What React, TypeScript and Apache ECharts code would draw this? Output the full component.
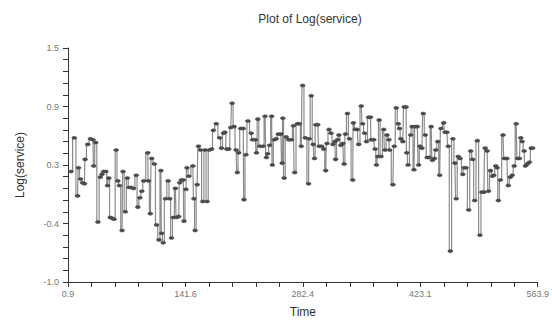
import React, { useEffect, useRef } from "react";
import * as echarts from "echarts";

const times: number[] = [
  4.5, 8.4, 12.4, 13.5, 15.9, 18.3, 20.6, 21.4, 24.6, 27.8, 30.9, 31.7, 34.1, 36.8, 39.6, 41.6, 43.6, 46.3, 48.3, 49.9,
  51.5, 53.8, 56.2, 58.6, 60.6, 62.5, 65.7, 66.9, 69.6, 72.0, 74.0, 76.7, 79.5, 82.7, 84.6, 87.0, 89.4, 91.7,
  96.5, 97.3, 99.6, 101.2, 104.4, 107.1, 109.9, 112.3, 113.1, 115.0, 117.8, 120.9, 122.9, 124.9, 127.3, 129.6, 131.2,
  133.6, 134.8, 136.8, 139.1, 139.9, 142.3, 143.5, 145.8, 150.6, 151.8, 153.3, 155.7, 157.3, 159.7, 162.4, 165.2,
  167.6, 170.3, 173.1, 175.1, 178.6, 182.6, 184.9, 187.3,
  188.9, 191.3, 193.6, 196.0, 197.6, 199.9, 202.3, 203.9, 205.5, 207.9, 211.0, 211.8, 214.2, 216.5, 220.5, 222.1,
  225.6, 226.8, 228.4, 230.8, 234.7, 237.1, 238.7, 240.2, 242.6, 245.0, 245.8, 248.1, 250.5, 252.9, 256.0, 257.6,
  258.4, 260.0, 262.4, 265.5, 268.7, 271.1, 272.6, 275.8, 278.2, 280.5, 282.1,
  285.3, 289.2, 290.0, 292.4, 294.8, 296.3, 297.9, 300.3, 301.9, 305.0, 307.4, 309.8, 311.3, 313.7, 316.1, 318.5,
  320.8, 321.6, 324.0, 325.6, 327.9, 330.3, 331.9, 333.5, 335.8, 338.2, 342.2, 342.9, 345.3, 347.7, 349.3, 352.4,
  354.0, 356.4, 358.7, 361.1, 363.5, 364.3, 367.4, 369.0, 370.6, 372.2, 373.8, 376.1,
  379.3, 380.9, 383.2, 385.6, 386.4, 390.3, 391.9, 394.3, 396.7, 398.2, 399.8, 402.2, 403.8, 406.1, 406.9, 408.5,
  411.7, 413.3, 415.6, 417.2, 419.6, 421.2, 422.7, 425.1, 426.7, 429.1, 431.4, 433.8, 436.2, 437.7, 440.1, 441.7,
  444.1, 446.4, 448.0, 451.2, 452.8, 455.1, 456.7, 459.1, 462.2, 464.6, 466.2, 468.6, 470.9,
  474.1, 475.7, 478.0, 481.2, 483.6, 485.9, 488.3, 491.5, 494.6, 497.0, 499.4, 500.9, 503.3, 504.9, 507.3, 509.6,
  511.2, 513.6, 515.2, 516.7, 519.1, 522.3, 523.9, 527.0, 528.6, 531.0, 533.3, 535.7, 538.1, 539.7, 542.0, 543.6,
  545.2, 547.6, 549.1, 551.5, 553.9, 556.2, 557.8,
];

const logService: number[] = [
  0.18, 0.54, -0.08, 0.22, 0.1, 0.06, 0.05, 0.31, 0.47, 0.53, 0.52, 0.24, 0.49, -0.36, 0.12, 0.15, 0.18, 0.18, 0.03, 0.11,
  -0.31, -0.32, -0.33, 0.41, 0.08, 0.03, -0.45, 0.18, -0.25, 0.11, 0.01, 0.01, 0.0, 0.14, -0.2, -0.1, -0.03, 0.08,
  0.38, 0.08, -0.27, 0.32, 0.26, -0.39, -0.55, 0.19, -0.48, -0.58, -0.11, 0.08, -0.11, -0.53, -0.31, 0.0, -0.31,
  -0.3, 0.06, 0.09, 0.09, -0.35, -0.01, 0.22, 0.13, 0.24, -0.11, -0.45, 0.04, 0.45, 0.41, -0.14, 0.41,
  -0.14, 0.41, 0.42, 0.62, 0.69, 0.54, 0.43, 0.59,
  0.6, 0.42, 0.42, 0.65, 0.91, 0.66, 0.41, 0.17, 0.38, 0.64, 0.64, -0.12, 0.36, 0.72, 0.59, 0.52,
  0.52, 0.38, 0.74, 0.45, 0.45, 0.77, 0.33, 0.37, 0.46, 0.77, 0.25, 0.52, 0.53, 0.58, 0.58, 0.27,
  0.75, 0.11, 0.55, 0.52, 0.52, 0.67, 0.17, 0.69, 0.69, 0.45, 1.1,
  0.54, 0.05, 0.53, 0.99, 0.47, 0.32, 0.68, 0.68, 0.45, 0.45, 0.42, 0.19, 0.48, 0.63, 0.59, 0.47,
  0.5, 0.31, 0.52, 0.57, 0.46, 0.48, 0.26, 0.58, 0.8, 0.53, 0.09, 0.7, 0.63, 0.63, 0.47, 0.88,
  0.69, 0.59, 0.5, 0.76, 0.76, 0.52, 0.52, 0.42, 0.25, 0.34, 0.73, 0.34,
  0.63, 0.41, 0.57, 0.52, 0.41, 0.04, 0.45, 0.86, 0.69, 0.64, 0.53, 0.5, 0.87, 0.87, 0.38, 0.25,
  0.57, 0.66, 0.2, 0.66, 0.66, 0.25, 0.45, 0.43, 0.8, 0.57, 0.33, 0.33, 0.66, 0.3, 0.32, 0.41,
  0.5, 0.14, 0.64, 0.7, 0.6, 0.6, 0.45, -0.67, 0.53, 0.27, -0.11, 0.34, 0.32,
  0.15, 0.22, 0.22, -0.23, 0.4, 0.31, -0.13, 0.51, -0.5, -0.04, -0.04, 0.43, 0.4, -0.03, 0.19, 0.13,
  0.14, 0.24, 0.22, -0.13, 0.09, 0.57, 0.32, 0.32, 0.03, 0.12, 0.14, 0.24, 0.69, 0.32, 0.32, 0.54,
  0.5, 0.4, 0.24, 0.26, 0.28, 0.43, 0.43,
];

const xTickValues: number[] = [0.9, 141.65, 282.4, 423.15, 563.9];
const xTickLabels: string[] = ["0.9", "141.6", "282.4", "423.1", "563.9"];
const yTickValues: number[] = [-1.0, -0.375, 0.25, 0.875, 1.5];
const yTickLabels: string[] = ["-1.0", "-0.4", "0.3", "0.9", "1.5"];

function minorValues(major: number[], parts: number): number[] {
  const out: number[] = [];
  for (let i = 0; i < major.length - 1; i++) {
    const step = (major[i + 1] - major[i]) / parts;
    for (let k = 0; k < parts; k++) out.push(major[i] + step * k);
  }
  out.push(major[major.length - 1]);
  return out;
}

function labelFor(values: number[], labels: string[], v: number): string {
  let best = 0;
  for (let i = 1; i < values.length; i++) {
    if (Math.abs(values[i] - v) < Math.abs(values[best] - v)) best = i;
  }
  return labels[best];
}

export default function App() {
  const ref = useRef<HTMLDivElement>(null);
  useEffect(() => {
    if (!ref.current) return;
    const chart = echarts.init(ref.current, undefined, { renderer: "svg" });
    const font = "Liberation Sans, Arial, sans-serif";
    const axisColor = "#333";
    chart.setOption({
      animation: false,
      backgroundColor: "#fff",
      title: {
        text: "Plot of Log(service)",
        left: 305,
        top: 8,
        textAlign: "center",
        textStyle: { fontFamily: font, fontSize: 12, fontWeight: "normal", color: "#333" },
      },
      grid: { left: 68, right: 9, top: 48, bottom: 37, containLabel: false },
      xAxis: {
        type: "value",
        min: 0.9,
        max: 563.9,
        name: "Time",
        nameLocation: "middle",
        nameGap: 24,
        nameTextStyle: { fontFamily: font, fontSize: 12, color: "#333" },
        splitLine: { show: false },
        axisLine: { show: true, onZero: false, lineStyle: { color: axisColor, width: 1 } },
        axisTick: {
          show: true,
          length: 5,
          customValues: minorValues(xTickValues, 5),
          lineStyle: { color: axisColor },
        },
        axisLabel: {
          customValues: xTickValues,
          formatter: (v: number) => labelFor(xTickValues, xTickLabels, v),
          fontFamily: font,
          fontSize: 9,
          color: "#777",
          margin: 7,
          showMinLabel: true,
          showMaxLabel: true,
        },
      },
      yAxis: {
        type: "value",
        min: -1.0,
        max: 1.5,
        name: "Log(service)",
        nameLocation: "middle",
        nameGap: 42,
        nameRotate: 90,
        nameTextStyle: { fontFamily: font, fontSize: 12, color: "#333" },
        splitLine: { show: false },
        axisLine: { show: true, onZero: false, lineStyle: { color: axisColor, width: 1 } },
        axisTick: {
          show: true,
          length: 5,
          customValues: minorValues(yTickValues, 5),
          lineStyle: { color: axisColor },
        },
        axisLabel: {
          customValues: yTickValues,
          formatter: (v: number) => labelFor(yTickValues, yTickLabels, v),
          fontFamily: font,
          fontSize: 9,
          color: "#777",
          margin: 9,
          showMinLabel: true,
          showMaxLabel: true,
        },
      },
      series: [
        {
          type: "line",
          step: "middle",
          data: times.map((t, i) => [t, logService[i]]),
          showSymbol: true,
          showAllSymbol: true,
          symbol: "circle",
          symbolSize: [5, 3],
          itemStyle: { color: "#4a4a4a", borderColor: "#4a4a4a", borderWidth: 0.5 },
          lineStyle: { color: "#8c8c8c", width: 1.2 },
          emphasis: { disabled: true },
        },
      ],
    });
    return () => chart.dispose();
  }, []);
  return (
    <div
      ref={ref}
      style={{ position: "fixed", left: 0, top: 0, width: 552, height: 323, background: "#fff" }}
    />
  );
}
